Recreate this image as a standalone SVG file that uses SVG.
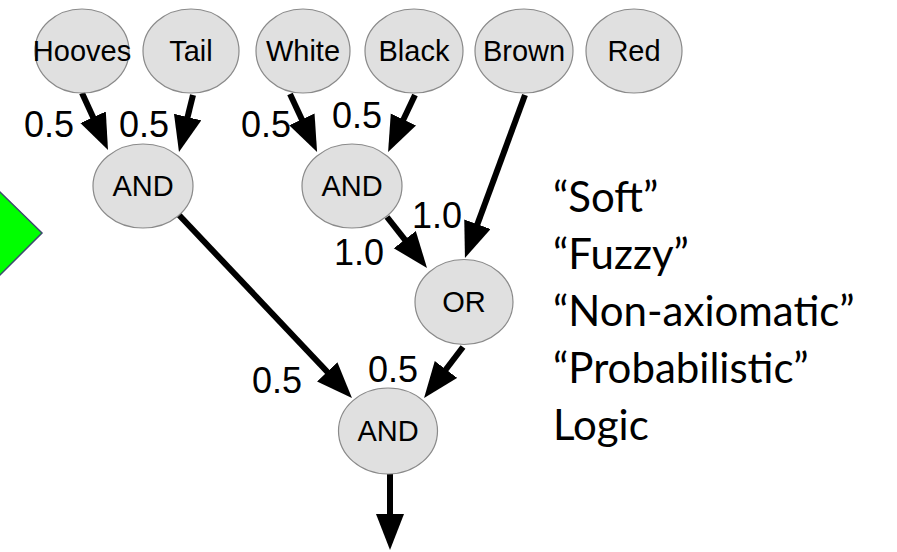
<svg xmlns="http://www.w3.org/2000/svg" width="897" height="552" viewBox="0 0 897 552">
  <style>
    .node ellipse { fill: #e0e0e0; stroke: #8a8a8a; stroke-width: 1.2; }
    .node text { font-family: "Liberation Sans", Arial, sans-serif; font-size: 29px; fill: #000; text-anchor: middle; }
    .edge { stroke: #000; stroke-width: 6; fill: none; marker-end: url(#arrow); }
    .lbl { font-family: "Liberation Sans", Arial, sans-serif; font-size: 36px; fill: #000; }
    .side { font-family: Lato, "Open Sans", sans-serif; font-size: 42px; fill: #000; }
  </style>
  <defs>
    <marker id="arrow" markerUnits="userSpaceOnUse" markerWidth="40" markerHeight="30" refX="2" refY="14" orient="auto">
      <path d="M0,0 L36,14 L0,28 Z" fill="#000"/>
    </marker>
  </defs>
  <rect width="897" height="552" fill="#fff"/>

  <polygon id="green-arrow" points="-20,172.5 42,233 -20,295" fill="#00ff00" stroke="#3c4a6e" stroke-width="1.5"/>

  <g id="connectors">
    <line class="edge" x1="82" y1="93" x2="93.9" y2="119.1"/>
    <line class="edge" x1="193" y1="95" x2="187.1" y2="119"/>
    <line class="edge" x1="290" y1="94" x2="302.7" y2="121.2"/>
    <line class="edge" x1="415" y1="95" x2="402.6" y2="121.3"/>
    <line class="edge" x1="525" y1="95" x2="476.7" y2="226.1"/>
    <line class="edge" x1="387" y1="217" x2="406" y2="241.2"/>
    <line class="edge" x1="179" y1="215" x2="328.6" y2="373.3"/>
    <line class="edge" x1="463" y1="347" x2="444.7" y2="371"/>
    <line class="edge" x1="390" y1="474" x2="390" y2="516"/>
  </g>

  <g id="edge-labels">
    <text class="lbl" x="24" y="137">0.5</text>
    <text class="lbl" x="119" y="137">0.5</text>
    <text class="lbl" x="241" y="137">0.5</text>
    <text class="lbl" x="332" y="128">0.5</text>
    <text class="lbl" x="334" y="265">1.0</text>
    <text class="lbl" x="412" y="228">1.0</text>
    <text class="lbl" x="252" y="393">0.5</text>
    <text class="lbl" x="368" y="382">0.5</text>
  </g>

  <g id="hooves" class="node"><ellipse cx="82" cy="51" rx="47" ry="42"/><text x="82" y="61">Hooves</text></g>
  <g id="tail" class="node"><ellipse cx="191" cy="51" rx="48" ry="42"/><text x="191" y="61">Tail</text></g>
  <g id="white" class="node"><ellipse cx="303" cy="51" rx="47" ry="42"/><text x="303" y="61">White</text></g>
  <g id="black" class="node"><ellipse cx="414" cy="51" rx="49" ry="42"/><text x="414" y="61">Black</text></g>
  <g id="brown" class="node"><ellipse cx="524" cy="51" rx="49" ry="42"/><text x="524" y="61">Brown</text></g>
  <g id="red" class="node"><ellipse cx="634" cy="51" rx="48" ry="42"/><text x="634" y="61">Red</text></g>
  <g id="and1" class="node"><ellipse cx="143" cy="186" rx="50" ry="42"/><text x="143" y="196">AND</text></g>
  <g id="and2" class="node"><ellipse cx="352" cy="186" rx="50" ry="42"/><text x="352" y="196">AND</text></g>
  <g id="or" class="node"><ellipse cx="464" cy="302" rx="49" ry="42.5"/><text x="464" y="312">OR</text></g>
  <g id="and3" class="node"><ellipse cx="388" cy="431" rx="49.5" ry="43"/><text x="388" y="441">AND</text></g>

  <g id="side-text">
    <text class="side" x="553" y="212">“Soft”</text>
    <text class="side" x="553" y="269">“Fuzzy”</text>
    <text class="side" x="553" y="326">“Non-axiomatic”</text>
    <text class="side" x="553" y="383">“Probabilistic”</text>
    <text class="side" x="553" y="440">Logic</text>
  </g>
</svg>
